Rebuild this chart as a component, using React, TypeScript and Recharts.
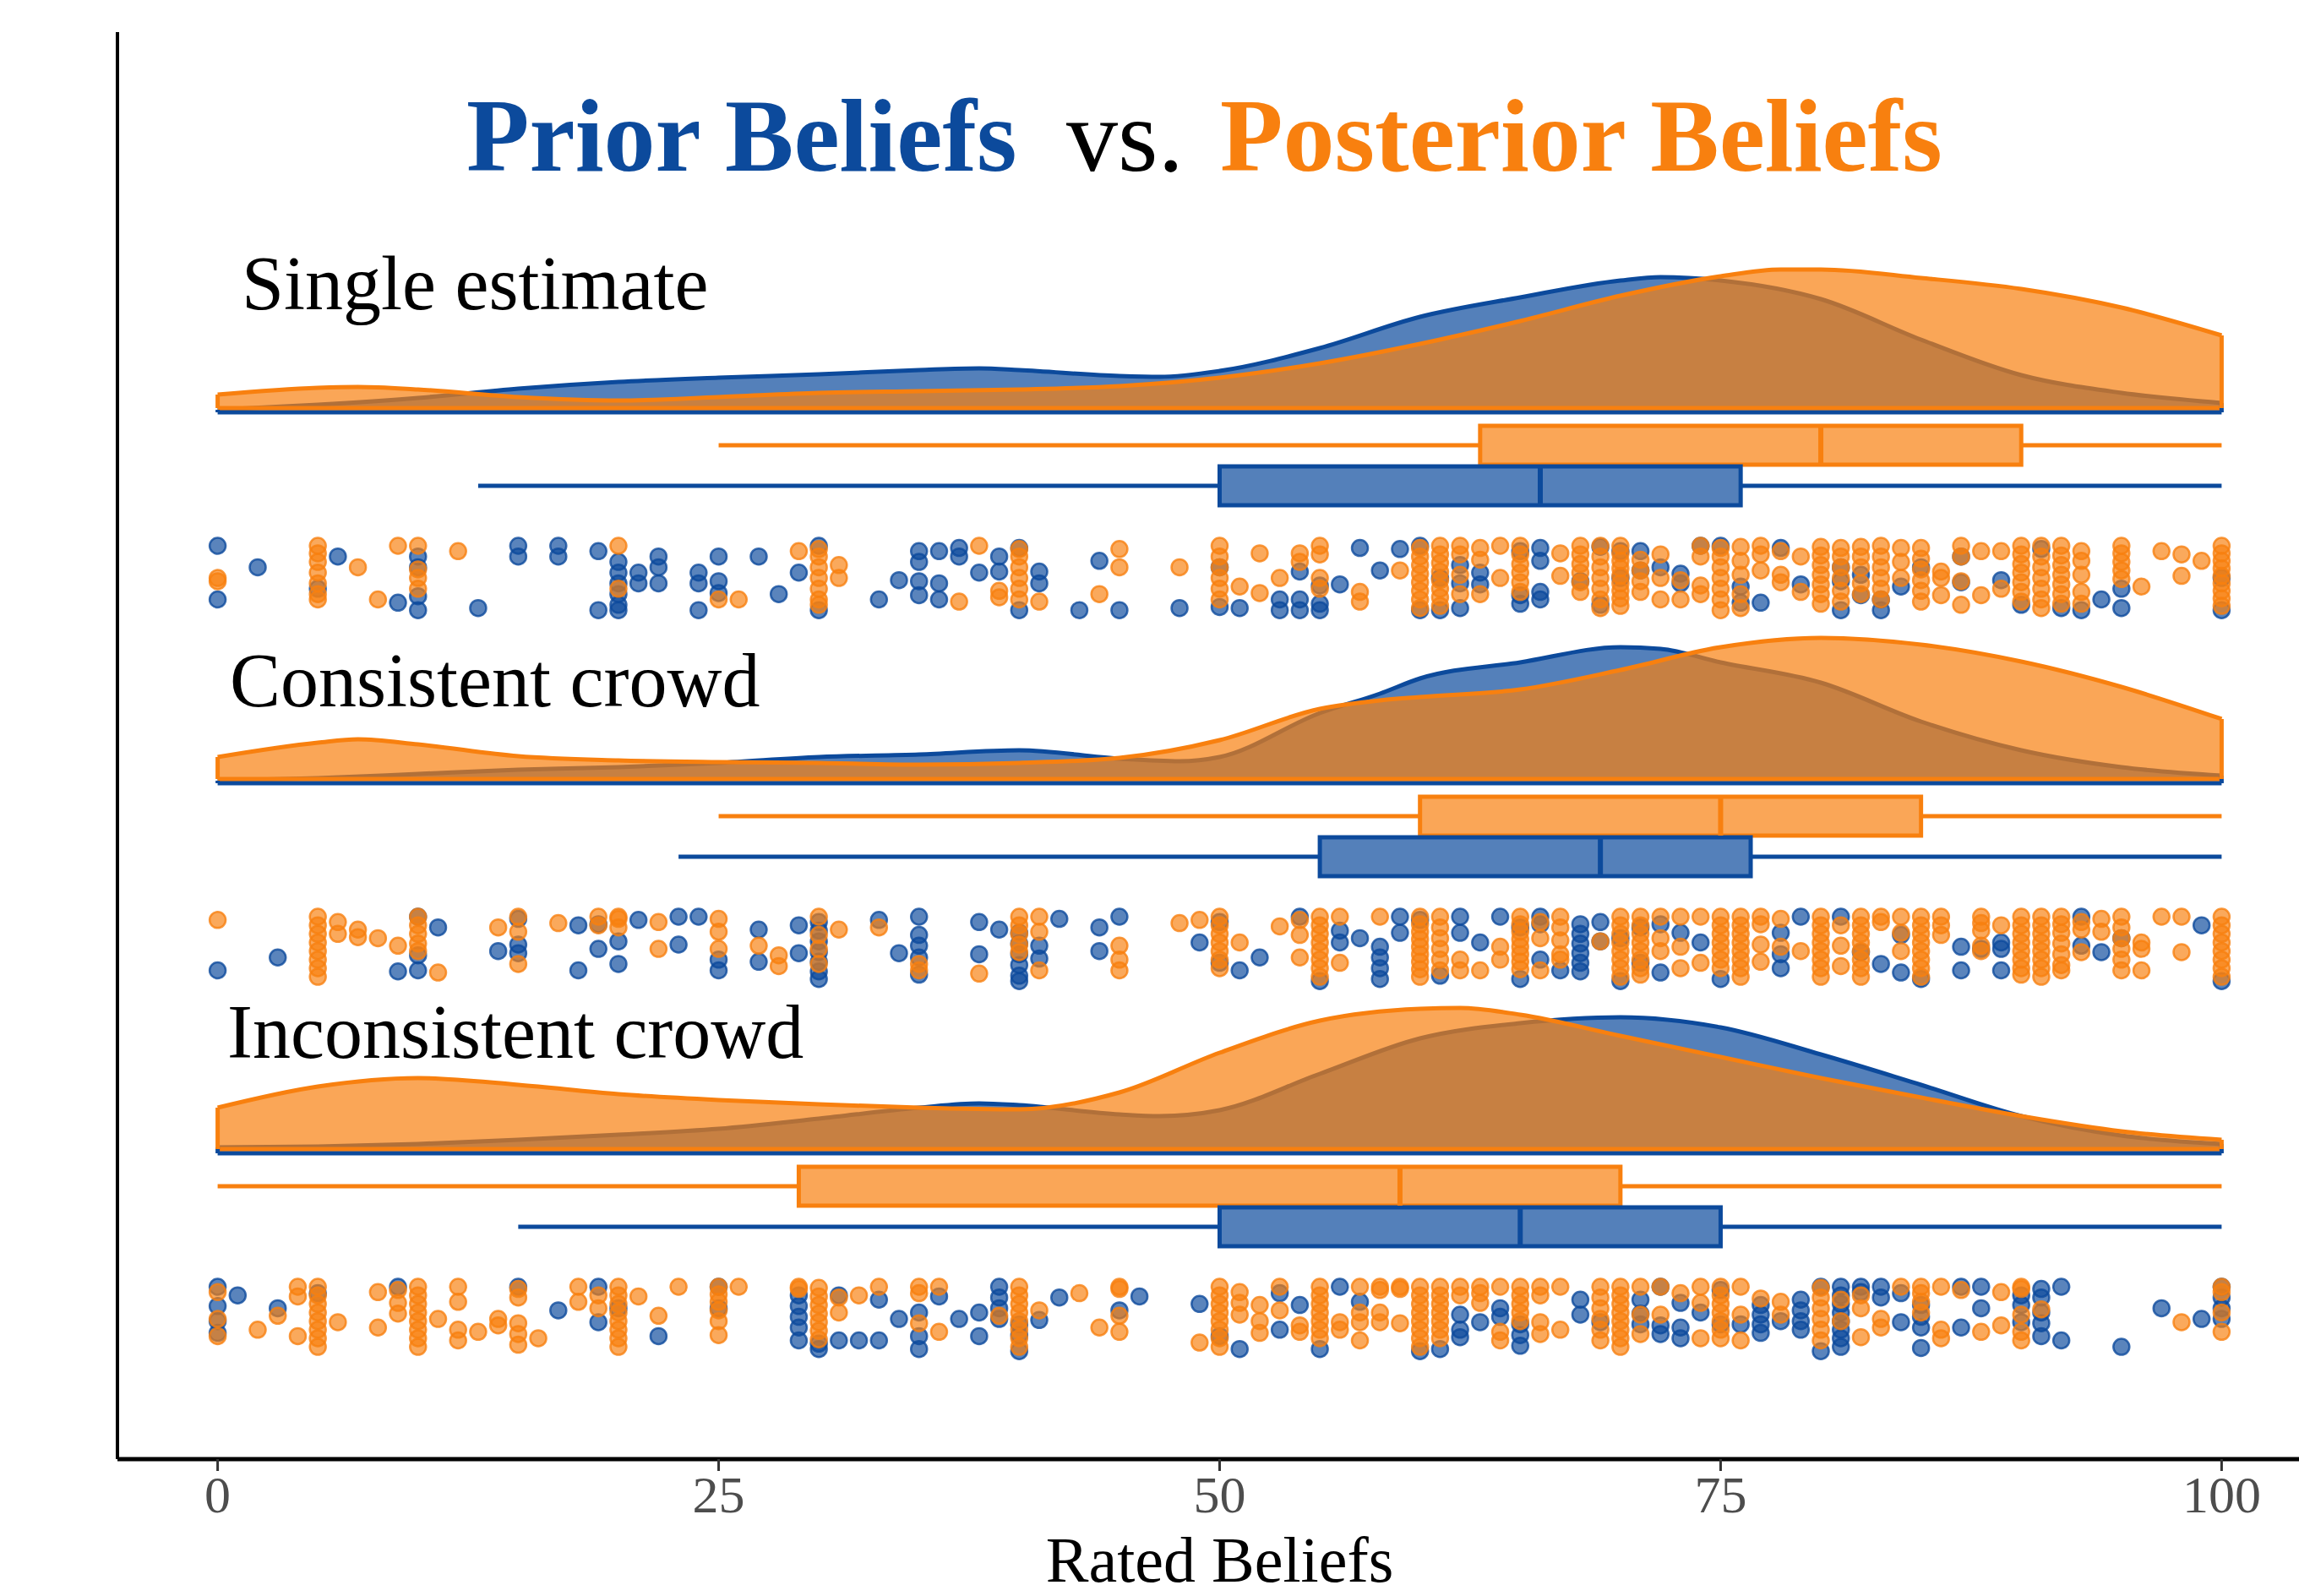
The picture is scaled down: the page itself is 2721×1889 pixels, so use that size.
import React from "react";
import { ComposedChart, Area, Scatter, XAxis, YAxis, ReferenceArea, ReferenceLine } from "recharts";

const BLUE = "#0c4a9c";
const ORANGE = "#f8800f";

const xTicks = [0, 25, 50, 75, 100];
const groupLabels = ["Single estimate", "Consistent crowd", "Inconsistent crowd"];

// density curves: [belief, height]
const singlePriorDensity: [number, number][] = [
  [0, 3], [5, 9], [10, 17], [15, 28], [20, 36], [25, 41], [30, 45], [35, 50], [38, 52], [40, 50], [45, 43], [47, 42],
  [50, 49], [55, 76], [60, 113], [65, 136], [70, 156], [72, 160], [75, 156], [80, 134], [85, 86], [90, 44], [95, 23], [100, 11],
];
const singlePostDensity: [number, number][] = [
  [0, 16], [5, 24], [7, 25], [10, 22], [15, 13], [20, 9], [25, 13], [30, 18], [35, 20], [40, 22], [45, 26], [50, 36],
  [55, 53], [60, 76], [65, 103], [70, 133], [75, 156], [78, 164], [80, 164], [85, 154], [90, 141], [95, 119], [100, 86],
];
const consistentPriorDensity: [number, number][] = [
  [0, 3], [5, 6], [10, 11], [15, 16], [20, 19], [25, 24], [30, 31], [35, 34], [40, 39], [45, 29], [48, 26], [50, 31],
  [55, 83], [58, 106], [60, 124], [65, 143], [70, 161], [72, 159], [75, 143], [80, 119], [85, 73], [90, 39], [95, 19], [100, 9],
];
const consistentPostDensity: [number, number][] = [
  [0, 26], [5, 43], [7, 47], [10, 41], [15, 27], [20, 22], [25, 20], [30, 19], [35, 17], [40, 19], [45, 25], [50, 46],
  [55, 83], [58, 93], [60, 97], [65, 106], [70, 129], [75, 156], [80, 167], [85, 159], [90, 139], [95, 109], [100, 71],
];
const inconsistentPriorDensity: [number, number][] = [
  [0, 7], [5, 8], [10, 11], [15, 16], [20, 22], [25, 29], [30, 41], [35, 54], [38, 59], [40, 57], [45, 46], [47, 44],
  [50, 51], [55, 94], [60, 136], [65, 154], [70, 161], [75, 149], [80, 117], [85, 81], [90, 44], [95, 21], [100, 11],
];
const inconsistentPostDensity: [number, number][] = [
  [0, 49], [5, 74], [10, 84], [15, 76], [20, 65], [25, 58], [30, 53], [35, 49], [40, 47], [45, 67], [50, 114],
  [55, 152], [60, 166], [62, 167], [65, 159], [70, 134], [75, 109], [80, 84], [85, 61], [90, 39], [95, 21], [100, 11],
];

// boxplot stats: [whisker low, q1, median, q3, whisker high]
const singlePriorBox = [13, 50, 66, 76, 100];
const singlePostBox = [25, 63, 80, 90, 100];
const consistentPriorBox = [23, 55, 69, 76.5, 100];
const consistentPostBox = [25, 60, 75, 85, 100];
const inconsistentPriorBox = [15, 50, 65, 75, 100];
const inconsistentPostBox = [0, 29, 59, 70, 100];

// raw ratings: [belief, jitter levels of each rating at that belief]
type Col = [number, number[]];
const singlePriorDots: Col[] = [
  [0, [0, 5]], [2, [2]], [5, [4]], [6, [1]], [9, [5.3]], [10, [1, 2, 4.7, 6]], [13, [5.8]], [15, [0, 1]], [17, [0, 1]],
  [19, [0.5, 6]], [20, [1.5, 2.5, 3.5, 4.5, 5.5, 6]], [21, [2.5, 3.5]], [22, [1, 2, 3.5]], [24, [2.5, 3.5, 6]],
  [25, [1, 3.3, 4.4]], [27, [1]], [28, [4.5]], [29, [2.5]], [30, [0, 6]], [33, [5]], [34, [3.2]], [35, [0.5, 1.5, 3.3, 4.6]],
  [36, [0.5, 3.5, 5]], [37, [0.2, 1]], [38, [2.5]], [39, [1, 2.4]], [40, [0.2, 6]], [41, [2.4, 3.5]], [43, [6]], [44, [1.4]],
  [45, [6]], [48, [5.8]], [50, [2, 5.7]], [51, [5.8]], [53, [5, 6]], [54, [2.4, 5, 6]], [55, [3.7, 5.4, 6]], [56, [3.6]],
  [57, [0.2]], [58, [2.3]], [59, [0.3]], [60, [0, 6]], [61, [3, 6]], [62, [1.8, 3.5, 5.8]], [63, [2.5, 3.6]],
  [65, [0.5, 4.6, 5.4]], [66, [0.2, 1.4, 4.3, 5]], [68, [3.3]], [69, [0.1, 5.5]], [70, [0.5, 3]], [71, [0.5, 2.3]], [72, [2]],
  [73, [2.6, 3.5]], [74, [0]], [75, [0]], [76, [3.8, 5.3]], [77, [5.3]], [78, [0.2]], [79, [3.6]], [81, [2, 3.3, 6]],
  [82, [2.7, 4.6]], [83, [5, 6]], [84, [3.8]], [85, [2]], [87, [1, 3.4]], [89, [3.2]], [90, [5.5]], [91, [0.3]], [92, [5.8]],
  [93, [6]], [94, [5]], [95, [4, 5.8]], [100, [3, 6]],
];
const singlePostDots: Col[] = [
  [0, [3, 3.3]], [5, [0, 0.7, 1.5, 2.5, 3.5, 4.5, 5]], [7, [2]], [8, [5]], [9, [0]], [10, [0, 2.2, 3, 4]], [12, [0.5]],
  [20, [0, 4]], [25, [5]], [26, [5]], [29, [0.5]], [30, [0.3, 1, 2, 3, 4, 5, 5.5]], [31, [1.8, 3]], [37, [5.2]], [38, [0]],
  [39, [4.2, 4.8]], [40, [0.3, 1, 2, 3, 4, 5]], [41, [5.2]], [44, [4.5]], [45, [0.3, 2]], [48, [2]],
  [50, [0, 1, 2, 3, 4, 5]], [51, [3.8]], [52, [0.7, 4.4]], [53, [3]], [54, [0.7, 1.5]], [55, [0, 0.8, 3, 4]], [57, [4.3, 5.2]],
  [59, [2.3]], [60, [0.2, 1, 1.8, 2.6, 3.4, 4.2, 5, 5.8]], [61, [0, 0.8, 1.6, 2.4, 3.2, 4, 4.8, 5.6]], [62, [0, 0.8, 2.7, 4.5]],
  [63, [0.2, 1.3, 4.5]], [64, [0, 3]], [65, [0, 0.8, 1.7, 2.5, 3.4, 4.3]], [67, [0.7, 2.8]], [68, [0, 0.8, 1.7, 2.5, 3.4, 4.3]],
  [69, [0, 1, 2, 3, 4, 5, 5.8]], [70, [0, 0.7, 1.4, 2.1, 2.8, 3.5, 4.2, 4.9, 5.6]], [71, [1.3, 2.3, 3.3, 4.3]], [72, [0.8, 3, 5]],
  [73, [3.2, 5]], [74, [0, 1, 3.7, 4.5]], [75, [0.2, 1, 2, 3, 4, 5, 6]], [76, [0.1, 1.4, 2.7, 4.5, 5.8]], [77, [0, 0.8, 2.3]],
  [78, [0.5, 2.7, 3.4]], [79, [1, 4.3]], [80, [0.1, 0.9, 1.8, 2.7, 3.6, 4.5, 5.4]], [81, [0.2, 1, 2, 3, 4.2, 5.2]],
  [82, [0.1, 1, 2, 3.5, 4.5]], [83, [0, 1, 2, 3, 4, 5]], [84, [0.2, 1.5, 3]], [85, [0.2, 1.2, 2.2, 3.2, 4.2, 5.2]],
  [86, [2.4, 3, 4.6]], [87, [0, 1, 3.3, 5.5]], [88, [0.5, 4.6]], [89, [0.5, 4]], [90, [0, 0.8, 1.7, 2.5, 3.4, 4.3, 5.2]],
  [91, [0, 1, 2, 3, 4, 5, 5.8]], [92, [0, 0.9, 1.8, 2.7, 3.6, 4.5, 5.4]], [93, [0.5, 1.4, 2.7, 4.3, 5.4]],
  [95, [0, 0.7, 1.5, 2.3, 3.1]], [96, [3.8]], [97, [0.5]], [98, [0.8, 2.8]], [99, [1.4]],
  [100, [0, 0.7, 1.4, 2.1, 2.8, 3.5, 4.2, 4.9, 5.6]],
];
const consistentPriorDots: Col[] = [
  [0, [5]], [3, [3.8]], [9, [5.1]], [10, [0, 3.6, 5]], [11, [1]], [14, [3.2]], [15, [0.2, 2.6, 3.4]], [18, [0.8, 5]],
  [19, [0.7, 3]], [20, [2.3, 4.4]], [21, [0.3]], [23, [0, 2.6]], [24, [0]], [25, [4, 5]], [27, [1.2, 4.2]], [29, [0.8, 3.4]],
  [30, [0.5, 1.3, 2.3, 3.3, 4.2, 5.1, 5.8]], [33, [0.3]], [34, [3.4]], [35, [0, 1.7, 2.7, 3.8, 5.4]], [38, [0.5, 3.5]],
  [39, [1.2]], [40, [1.5, 2.5, 3.5, 4.5, 5.5, 6]], [41, [2.7, 3.9]], [42, [0.2]], [44, [1, 3.2]], [45, [0]], [49, [2.4]],
  [50, [0.5, 4.3]], [51, [5]], [52, [3.8]], [54, [0]], [55, [6]], [56, [1.3, 2.4]], [57, [2]], [58, [2.8, 3.8, 4.8, 5.8]],
  [59, [0, 1.5]], [60, [0.3]], [61, [5.5]], [62, [0, 1.5]], [63, [2.4]], [64, [0]], [65, [1, 5.8]], [66, [0, 0.7, 4]],
  [67, [5]], [68, [0.7, 1.6, 2.5, 3.4, 4.3, 5.1]], [69, [0.5, 2.3]], [70, [2, 6]], [71, [1, 4.3]], [72, [0.7, 5.2]],
  [73, [1.5]], [74, [2.4]], [75, [5.8]], [78, [1.5, 3.5, 4.8]], [79, [0]], [81, [0]], [82, [3.3]], [83, [4.4]],
  [84, [1.7, 5.2]], [85, [5.8]], [87, [2.8, 5]], [88, [3]], [89, [2.4, 3, 5]], [93, [0, 2.7]], [94, [3.3]], [95, [2]],
  [99, [0.8]], [100, [6]],
];
const consistentPostDots: Col[] = [
  [0, [0.3]], [5, [0, 0.8, 1.6, 2.4, 3.2, 4, 4.8, 5.6]], [6, [0.5, 1.6]], [7, [1.2, 1.9]], [8, [2]], [9, [2.7]],
  [10, [0, 0.8, 1.6, 2.5, 3.2]], [11, [5.2]], [14, [1]], [15, [0, 1.4, 4.4]], [17, [0.6]], [19, [0, 0.8]], [20, [0, 0.2, 1]],
  [22, [0.5, 3]], [25, [0.2, 1.4, 3]], [27, [2.7]], [28, [3.6, 4.6]], [30, [0, 1.7, 3, 4.4]], [31, [1.2]], [33, [1]],
  [35, [4.4, 5]], [38, [5.3]], [40, [0, 0.8, 1.6, 2.6, 3.3]], [41, [0, 1.4, 5]], [45, [2.7, 4, 5]], [48, [0.6]], [49, [0.3]],
  [50, [0, 0.8, 1.6, 2.4, 3.2, 4, 4.8]], [51, [2.4]], [53, [0.9]], [54, [0.3, 1.7, 3.8]], [55, [0, 0.8, 1.6, 2.4, 3.2, 4, 4.8, 5.6]],
  [56, [0, 4.3]], [58, [0]], [60, [0, 0.7, 1.4, 2.1, 2.8, 3.5, 4.2, 4.9, 5.6]], [61, [0, 1, 2, 3, 4, 5]], [62, [4, 5]], [63, [5]],
  [64, [2.8, 4]], [65, [0, 0.7, 1.4, 2.1, 2.8, 3.5, 4.2, 4.9]], [66, [0.5, 2, 5]], [67, [0, 1, 2.2, 3.5, 4]], [69, [2.3]],
  [70, [0, 0.8, 1.6, 2.4, 3.2, 4, 4.8, 5.6]], [71, [0, 0.8, 1.6, 2.4, 3.2, 4, 4.8, 5.4]], [72, [0, 2, 3.2]], [73, [0, 2.8, 4.8]],
  [74, [0, 4.3]], [75, [0, 0.8, 1.6, 2.4, 3.2, 4, 4.8]], [76, [0, 0.8, 1.6, 2.4, 3.2, 4, 4.8, 5.6]], [77, [0, 0.7, 2.6, 4.2]],
  [78, [0.2, 2.8]], [79, [3.2]], [80, [0, 0.8, 1.6, 2.4, 3.2, 4, 4.8, 5.6]], [81, [0.8, 2.7, 4.6]],
  [82, [0, 0.8, 1.6, 2.4, 3.2, 4, 4.8, 5.6]], [83, [0, 0.5]], [84, [0, 1.5, 3.2]], [85, [0, 0.8, 1.6, 2.4, 3.2, 4, 4.8, 5.6]],
  [86, [0, 0.8, 1.7]], [88, [0, 0.6, 1.3, 2.7, 3.2]], [89, [0.8]], [90, [0, 0.8, 1.6, 2.4, 3.2, 4, 4.8, 5.4]],
  [91, [0, 0.8, 1.6, 2.4, 3.2, 4, 4.8, 5.6]], [92, [0, 0.7, 1.5, 2.5, 3.5, 4.5, 5]], [93, [0.5, 1.2, 3.3]], [94, [0.2, 1.4]],
  [95, [0, 1, 2, 3, 4, 5]], [96, [2.4, 3, 5]], [97, [0]], [98, [0, 3.3]], [100, [0, 0.8, 1.6, 2.4, 3.2, 4, 4.8, 5.6]],
];
const inconsistentPriorDots: Col[] = [
  [0, [0, 1.8, 3.2, 4.3]], [1, [0.8]], [3, [2]], [5, [0.6]], [9, [0]], [15, [0]], [17, [2.2]], [19, [0, 3.3]], [20, [2]],
  [22, [4.6]], [25, [0, 2]], [29, [0.8, 1.8, 2.8, 3.8, 5]], [30, [5.3, 5.8]], [31, [0.8, 5]], [32, [5]], [33, [1.2, 5]],
  [34, [3]], [35, [2.4, 4.6, 5.8]], [36, [0.9]], [37, [3]], [38, [2.4, 4.6]], [39, [0, 1, 2, 3]], [40, [3.5, 4.5, 6]],
  [41, [3.1]], [42, [1]], [45, [2.2]], [46, [0.9]], [49, [1.6]], [50, [4.6]], [51, [5.8]], [53, [0.6, 4]], [54, [1.7]],
  [55, [5.8]], [56, [0]], [57, [1.4]], [60, [6]], [61, [5.8]], [62, [2.6, 4, 4.7]], [63, [3.3]], [64, [2, 2.8]],
  [65, [3.5, 4.5, 5.5]], [68, [1.2, 2.6]], [69, [3.3]], [71, [1.2, 2.5, 3.5]], [72, [0, 3.6, 4.4]], [73, [1.5, 3.8, 4.8]],
  [74, [2.4]], [75, [0.3, 3.5]], [76, [3.5]], [77, [1.7, 2.6, 3.5, 4.3]], [78, [3.2]], [79, [1.2, 2.2, 3.2, 4]], [80, [0, 6]],
  [81, [0, 0.8, 1.6, 2.4, 3.2, 4, 4.8, 5.6]], [82, [0, 0.5]], [83, [0, 1]], [84, [0.6, 3.3]], [85, [1.7, 2.8, 3.8, 5.7]],
  [87, [0, 3.8]], [88, [0, 2]], [90, [0.8, 1.7, 3.3]], [91, [0.2, 1, 2.4, 3.4, 4.6]], [92, [0, 5]], [95, [5.6]], [97, [2]],
  [99, [3]], [100, [0, 1, 2, 3]],
];
const inconsistentPostDots: Col[] = [
  [0, [0.5, 3, 4.6]], [2, [4]], [3, [2.7]], [4, [0, 0.9, 4.6]], [5, [0, 0.8, 1.6, 2.4, 3.2, 4, 4.8, 5.6]], [6, [3.3]],
  [8, [0.5, 3.8]], [9, [0.3, 1.5, 2.5]], [10, [0, 0.8, 1.6, 2.4, 3.2, 4, 4.8, 5.6]], [11, [3]], [12, [0, 1.4, 4, 5]], [13, [4.2]],
  [14, [3, 3.6]], [15, [0.2, 1, 3.4, 4.4, 5.4]], [16, [4.8]], [18, [0, 1.4]], [19, [0.8, 2]], [20, [0, 0.8, 1.6, 2.4, 3.2, 4, 4.8, 5.6]],
  [21, [0.9]], [22, [2.7]], [23, [0]], [25, [0, 0.7, 1.4, 2.2, 3.2, 4.5]], [26, [0]], [29, [0, 0.2]],
  [30, [0.1, 0.9, 1.7, 2.5, 3.3, 4.1, 4.9]], [31, [1, 2.4]], [32, [0.8]], [33, [0]], [35, [0, 0.6, 3.4]], [36, [0, 4.2]],
  [39, [2.7]], [40, [0, 0.8, 1.6, 2.4, 3.2, 4, 4.8, 5.6]], [41, [2.2]], [43, [0.6]], [44, [3.8]], [45, [0, 0.2, 2.7, 4.2]],
  [49, [5.2]], [50, [0, 0.8, 1.6, 2.4, 3.2, 4, 4.8, 5.6]], [51, [0.5, 1.5, 2.6]], [52, [1.7, 3.2, 4.3]], [53, [0, 2.2]],
  [54, [3.6, 4.2]], [55, [0, 0.8, 1.6, 2.4, 3.2, 4, 4.8]], [56, [3.3, 4]], [57, [0, 2.4, 3.3, 5]], [58, [0, 0.3, 2.4, 3.3]],
  [59, [0, 0.2, 3.4]], [60, [0, 0.8, 1.6, 2.4, 3.2, 4, 4.8, 5.6]], [61, [0, 0.8, 1.6, 2.4, 3.2, 4, 4.8]], [62, [0, 0.8]],
  [63, [0, 0.6, 1.5]], [64, [0, 4.2, 5]], [65, [0, 0.8, 1.6, 2.4, 3.2]], [66, [0, 0.8, 3.3, 4.4]], [67, [0, 4]],
  [69, [0, 1, 2, 3, 4, 5]], [70, [0, 0.8, 1.6, 2.4, 3.2, 4, 4.8, 5.6]], [71, [0, 2.6, 4.4]], [72, [0, 2.6]], [73, [0.6]],
  [74, [0, 1.5, 4.8]], [75, [0, 0.8, 1.6, 2.4, 3.2, 4, 4.8]], [76, [0, 2.6, 5]], [77, [1.1]], [78, [1.4, 2.6]],
  [80, [0.1, 1, 2, 3, 4, 5]], [81, [1.2, 3.2]], [82, [0.8, 2, 4.7]], [83, [3, 3.8]], [84, [0]], [85, [0, 0.6, 1.4, 2.4]],
  [86, [0, 4, 4.8]], [87, [0.3]], [88, [4.2]], [89, [0.5, 3.6]], [90, [0, 0.2, 2.6, 4.2, 5]], [91, [2.1]], [98, [3.3]],
  [100, [0, 0.5, 2.4, 4.2]],
];

// layout (y in pixel units above the x axis)
const Y_MAX = 1689;
const GROUP_BASE = [1244, 805, 367];
const PRIOR_DROP = 5;
const POST_BOX_OFF = 44;
const PRIOR_BOX_OFF = 92;
const BOX_HALF = 23;
const DOT_TOP = 163;
const DOT_STEP = 12.7;

const groups = [
  { prior: singlePriorDensity, post: singlePostDensity, priorBox: singlePriorBox, postBox: singlePostBox, priorDots: singlePriorDots, postDots: singlePostDots },
  { prior: consistentPriorDensity, post: consistentPostDensity, priorBox: consistentPriorBox, postBox: consistentPostBox, priorDots: consistentPriorDots, postDots: consistentPostDots },
  { prior: inconsistentPriorDensity, post: inconsistentPostDensity, priorBox: inconsistentPriorBox, postBox: inconsistentPostBox, priorDots: inconsistentPriorDots, postDots: inconsistentPostDots },
];

const band = (d: [number, number][], base: number) => d.map(([x, h]) => ({ x, r: [base, base + h] }));
const dots = (cols: Col[], base: number) =>
  cols.flatMap(([x, lv]) => lv.map((l) => ({ x, y: base - DOT_TOP - l * DOT_STEP })));

const dotShape = (color: string) => (p: any) => (
  <circle cx={p.cx} cy={p.cy} r={9.5} fill={color} fillOpacity={0.68} stroke={color} strokeOpacity={0.8} strokeWidth={2.5} />
);

function boxMarks(stats: number[], center: number, color: string, key: string) {
  const [lo, q1, med, q3, hi] = stats;
  return [
    <ReferenceLine key={key + "wl"} segment={[{ x: lo, y: center }, { x: q1, y: center }]} stroke={color} strokeWidth={5} ifOverflow="visible" />,
    <ReferenceLine key={key + "wh"} segment={[{ x: q3, y: center }, { x: hi, y: center }]} stroke={color} strokeWidth={5} ifOverflow="visible" />,
    <ReferenceArea key={key + "b"} x1={q1} x2={q3} y1={center - BOX_HALF} y2={center + BOX_HALF} fill={color} fillOpacity={0.7} stroke={color} strokeWidth={5} strokeOpacity={1} ifOverflow="visible" />,
    <ReferenceLine key={key + "m"} segment={[{ x: med, y: center - BOX_HALF }, { x: med, y: center + BOX_HALF }]} stroke={color} strokeWidth={6} ifOverflow="visible" />,
  ];
}

function edgeMarks(d: [number, number][], base: number, color: string, key: string) {
  const first = d[0];
  const last = d[d.length - 1];
  return [
    <ReferenceLine key={key + "e0"} segment={[{ x: first[0], y: base }, { x: first[0], y: base + first[1] }]} stroke={color} strokeWidth={5} ifOverflow="visible" />,
    <ReferenceLine key={key + "e1"} segment={[{ x: last[0], y: base }, { x: last[0], y: base + last[1] }]} stroke={color} strokeWidth={5} ifOverflow="visible" />,
  ];
}

export default function App() {
  const labelY = [366, 836, 1252];
  const labelX = [286, 272, 269];
  return (
    <div style={{ position: "absolute", left: 0, top: 0, width: 2721, height: 1889, overflow: "hidden", background: "#fff", fontFamily: "'Liberation Serif', 'Times New Roman', serif" }}>
      <ComposedChart width={2748} height={1889} margin={{ top: 38, right: 0, bottom: 0, left: 129 }}>
        <XAxis
          type="number"
          dataKey="x"
          domain={[-5, 105]}
          ticks={xTicks}
          allowDataOverflow
          height={162}
          axisLine={{ stroke: "#000", strokeWidth: 5 }}
          tickLine={{ stroke: "#333", strokeWidth: 3 }}
          tickSize={14}
          tickMargin={5}
          tick={{ fontSize: 62, fill: "#4d4d4d" }}
          label={{ value: "Rated Beliefs", position: "insideBottom", offset: 17, fontSize: 76, fill: "#000" }}
        />
        <YAxis type="number" dataKey="y" domain={[0, Y_MAX]} width={10} tick={false} tickLine={false} axisLine={{ stroke: "#000", strokeWidth: 4 }} allowDataOverflow />

        {groups.flatMap((g, i) => [
          <Area key={"pa" + i} data={band(g.prior, GROUP_BASE[i] - PRIOR_DROP)} dataKey="r" type="monotone" stroke={BLUE} strokeWidth={5} fill={BLUE} fillOpacity={0.7} isAnimationActive={false} dot={false} activeDot={false} />,
          <Area key={"qa" + i} data={band(g.post, GROUP_BASE[i])} dataKey="r" type="monotone" stroke={ORANGE} strokeWidth={5} fill={ORANGE} fillOpacity={0.7} isAnimationActive={false} dot={false} activeDot={false} />,
        ])}
        {groups.flatMap((g, i) => [
          ...edgeMarks(g.prior, GROUP_BASE[i] - PRIOR_DROP, BLUE, "pe" + i),
          ...edgeMarks(g.post, GROUP_BASE[i], ORANGE, "qe" + i),
          ...boxMarks(g.postBox, GROUP_BASE[i] - POST_BOX_OFF, ORANGE, "qb" + i),
          ...boxMarks(g.priorBox, GROUP_BASE[i] - PRIOR_BOX_OFF, BLUE, "pb" + i),
        ])}
        {groups.flatMap((g, i) => [
          <Scatter key={"ps" + i} data={dots(g.priorDots, GROUP_BASE[i])} shape={dotShape(BLUE)} isAnimationActive={false} />,
          <Scatter key={"qs" + i} data={dots(g.postDots, GROUP_BASE[i])} shape={dotShape(ORANGE)} isAnimationActive={false} />,
        ])}
      </ComposedChart>
      <svg width={2721} height={1889} style={{ position: "absolute", left: 0, top: 0, pointerEvents: "none" }}>
        <text x={552} y={202} fontSize={122} fontWeight="bold" fill={BLUE}>Prior Beliefs</text>
        <text x={1262} y={202} fontSize={122} fill="#000">vs.</text>
        <text x={1444} y={202} fontSize={122} fontWeight="bold" fill={ORANGE}>Posterior Beliefs</text>
        {groupLabels.map((t, i) => (
          <text key={t} x={labelX[i]} y={labelY[i]} fontSize={90} fill="#000">{t}</text>
        ))}
      </svg>
    </div>
  );
}
